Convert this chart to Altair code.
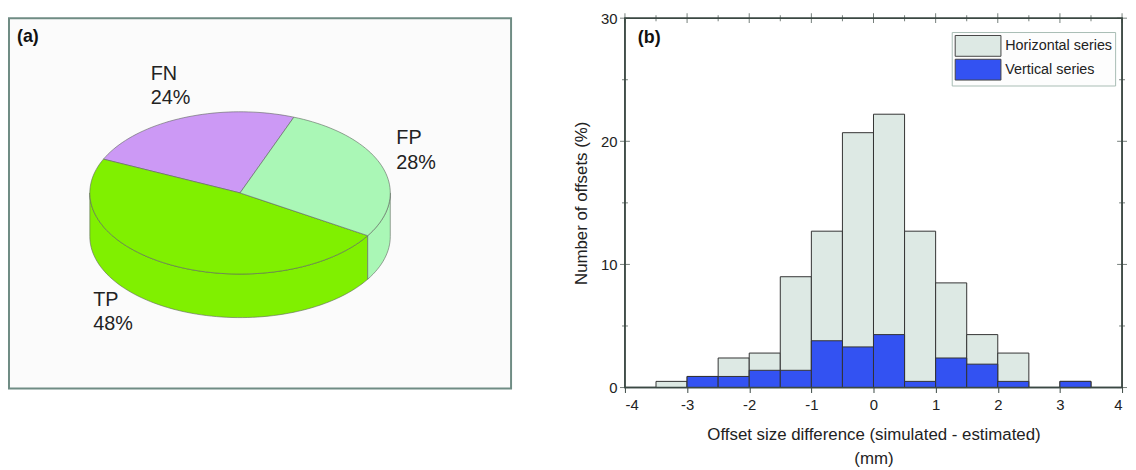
import math
import altair as alt
import pandas as pd

# ---------------- data ----------------
# Panel (a): detection outcome shares (%)
pie_labels = ["FN", "TP", "FP"]
pie_values = [24, 48, 28]
pie_colors = ["#cc99f5", "#80f000", "#aaf7b6"]

# Panel (b): histogram of offset size differences (% of offsets)
bin_left = [-3.5, -3.0, -2.5, -2.0, -1.5, -1.0, -0.5, 0.0, 0.5, 1.0, 1.5, 2.0, 2.5, 3.0]
horizontal = [0.5, 0.9, 2.4, 2.8, 9.0, 12.7, 20.7, 22.2, 12.7, 8.5, 4.3, 2.8, 0.0, 0.5]
vertical = [0.0, 0.9, 0.9, 1.4, 1.4, 3.8, 3.3, 4.3, 0.5, 2.4, 1.9, 0.5, 0.0, 0.5]
series_names = ["Horizontal series", "Vertical series"]
series_colors = ["#dde9e4", "#3352f2"]
x_major = [-4, -3, -2, -1, 0, 1, 2, 3, 4]
x_minor = [-3.5, -2.5, -1.5, -0.5, 0.5, 1.5, 2.5, 3.5]
y_major = [0, 10, 20, 30]
y_minor = [5, 15, 25]
BIN_WIDTH = 0.5

FONT = "Liberation Sans"

# ---------------- panel (a): 3D pie built from the shares ----------------
START_DEG = 69.0   # where the first slice starts
TILT = 0.54        # vertical squash of the pie top
DEPTH = 0.29       # thickness of the disc
BOX = (-1.538, -1.302, 1.804, 1.163)  # frame extent in pie units


def arc(t0, t1, dy=0.0):
    n = max(2, int(abs(t1 - t0) / 2) + 1)
    pts = []
    for i in range(n + 1):
        t = math.radians(t0 + (t1 - t0) * i / n)
        pts.append([math.cos(t), TILT * math.sin(t) + dy])
    return pts


def feature(ring, fill, stroke, sw, op=1.0):
    return {"type": "Feature",
            "geometry": {"type": "Polygon", "coordinates": [ring]},
            "properties": {"fill": fill, "stroke": stroke, "sw": sw, "op": op}}


x0, y0, x1, y1 = BOX
features = [feature([[x0, y0], [x1, y0], [x1, y1], [x0, y1], [x0, y0]],
                    "#ffffff", "#ffffff", 0, 0.0)]

angles = []
t = START_DEG
for v in pie_values:
    angles.append((t, t + v * 3.6))
    t += v * 3.6

edge = "#5e665e"
# visible side walls (front half of the disc)
for (a0, a1), col in zip(angles, pie_colors):
    for k in (0, 360):
        lo, hi = max(a0, 180 + k), min(a1, 360 + k)
        if hi > lo:
            ring = arc(lo, hi) + arc(hi, lo, -DEPTH)
            ring.append(ring[0])
            features.append(feature(ring, col, edge, 0.6))
# top faces
for (a0, a1), col in zip(angles, pie_colors):
    ring = [[0, 0]] + arc(a0, a1) + [[0, 0]]
    features.append(feature(ring, col, edge, 0.6))

label_pos = {"FN": (-0.595, 0.86), "FP": (1.040, 0.43), "TP": (-0.977, -0.645)}
labels_df = pd.DataFrame({
    "lx": [label_pos[l][0] for l in pie_labels],
    "ly": [label_pos[l][1] for l in pie_labels],
    "txt": [f"{l}\n{v}%" for l, v in zip(pie_labels, pie_values)],
})
tag_a_df = pd.DataFrame({"lx": [-1.485], "ly": [1.095], "txt": ["(a)"]})

shapes = alt.Chart(alt.Data(values=features)).mark_geoshape().encode(
    color=alt.Color("properties.fill:N", scale=None),
    stroke=alt.Stroke("properties.stroke:N", scale=None),
    strokeWidth=alt.StrokeWidth("properties.sw:Q", scale=None),
    opacity=alt.Opacity("properties.op:Q", scale=None),
)
pie_text = alt.Chart(labels_df).mark_text(
    align="left", baseline="top", lineBreak="\n", fontSize=20, lineHeight=25,
    color="#222222", font=FONT,
).encode(longitude="lx:Q", latitude="ly:Q", text="txt:N")
tag_a = alt.Chart(tag_a_df).mark_text(
    align="left", baseline="top", fontSize=18, fontWeight="bold",
    color="#111111", font=FONT,
).encode(longitude="lx:Q", latitude="ly:Q", text="txt:N")

left = alt.layer(shapes, pie_text, tag_a).project(
    type="identity", reflectY=True
).properties(
    width=507, height=374,
    view=alt.ViewBackground(fill="#fbfbfb", stroke="#6f8c84", strokeWidth=2),
)

# ---------------- panel (b): histogram ----------------
rows = []
for s, vals in zip(series_names, [horizontal, vertical]):
    for l, v in zip(bin_left, vals):
        rows.append({"series": s, "x0": l, "x1": l + BIN_WIDTH, "pct": v})
hist_df = pd.DataFrame(rows)

W, H = 502, 373
tick_col = "#3b4843"
xscale = alt.Scale(domain=[-4, 4], nice=False, zero=False, padding=0)
yscale = alt.Scale(domain=[0, 30], nice=False, padding=0)

bars = alt.Chart(hist_df).transform_filter("datum.pct > 0").mark_bar(
    stroke="#333333", strokeWidth=1, opacity=1
).encode(
    x=alt.X("x0:Q", scale=xscale, axis=alt.Axis(
        values=x_major + x_minor,
        labelExpr="datum.value % 1 == 0 ? '' + datum.value : ''",
        labelFlush=True,
        title=["Offset size difference (simulated - estimated)", "(mm)"],
        domain=False, ticks=True, tickSize=5, tickColor=tick_col,
        labelFontSize=15, labelPadding=5, labelColor="#222222",
        titleFontSize=17, titleFontWeight="normal", titleColor="#222222",
        titlePadding=14, titleLineHeight=25, grid=False,
    )),
    x2="x1:Q",
    y=alt.Y("pct:Q", scale=yscale, stack=None, axis=alt.Axis(
        values=y_major, title="Number of offsets (%)",
        domain=False, ticks=False, tickSize=0, labelFontSize=15, labelPadding=8,
        labelColor="#222222", titleFontSize=17, titleFontWeight="normal",
        titleColor="#222222", titlePadding=10, grid=False,
    )),
    y2=alt.datum(0),
    color=alt.Color("series:N", scale=alt.Scale(domain=series_names, range=series_colors),
                    legend=alt.Legend(
                        title=None, orient="none", legendX=330, legendY=14,
                        symbolType="M-1,-1H3.4V1H-1Z", symbolSize=441,
                        symbolStrokeColor="#444444", symbolStrokeWidth=1,
                        symbolOpacity=1, labelFontSize=14.5, labelColor="#222222",
                        labelOffset=29, padding=3, rowPadding=-2,
                        strokeColor="#a8bcb4", fillColor="#fdfdfd",
                    )),
    order=alt.Order("series:N", sort="ascending"),
)

frame = alt.Chart(pd.DataFrame({"f": [0]})).mark_rect(
    fill=None, filled=False, stroke=tick_col, strokeWidth=1.5
).encode(x=alt.value(0), x2=alt.value(W), y=alt.value(0), y2=alt.value(H))

xmaj_df = pd.DataFrame({"v": x_major})
xmin_df = pd.DataFrame({"v": x_minor})
ymaj_df = pd.DataFrame({"v": y_major})
ymin_df = pd.DataFrame({"v": y_minor})


def xticks(df, length):
    return alt.Chart(df).mark_tick(
        color=tick_col, thickness=1, size=length, orient="vertical"
    ).encode(x=alt.X("v:Q", scale=xscale), y=alt.value(0))


def yticks(df, length, xpos):
    return alt.Chart(df).mark_tick(
        color=tick_col, thickness=1, size=length, orient="horizontal"
    ).encode(y=alt.Y("v:Q", scale=yscale), x=alt.value(xpos))


tick_layers = [
    xticks(xmaj_df, 10), xticks(xmin_df, 6),
    yticks(ymaj_df, 10, 0), yticks(ymin_df, 6, 0),
    yticks(ymaj_df, 10, W), yticks(ymin_df, 6, W),
]

tag_b = alt.Chart(pd.DataFrame({"txt": ["(b)"]})).mark_text(
    align="left", baseline="top", fontSize=18, fontWeight="bold",
    color="#111111", font=FONT,
).encode(x=alt.value(13), y=alt.value(11), text="txt:N")

right = alt.layer(bars, *tick_layers, frame, tag_b).properties(
    width=W, height=H,
)

chart = alt.hconcat(left, right, spacing=60).resolve_legend(
    color="independent"
).resolve_scale(color="independent").properties(padding=0).configure(
    font=FONT
).configure_view(stroke=tick_col, strokeWidth=1.5)

chart.save("out.html", embed_options={"renderer": "svg", "actions": False})
